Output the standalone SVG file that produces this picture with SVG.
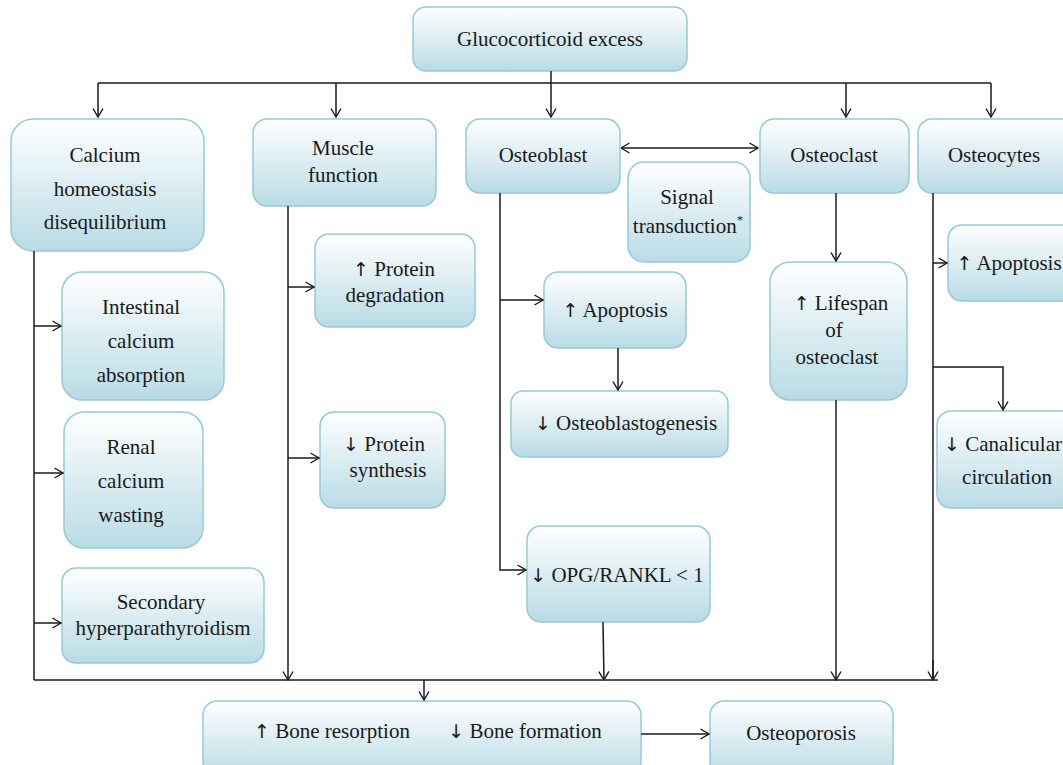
<svg xmlns="http://www.w3.org/2000/svg" width="1063" height="765" viewBox="0 0 1063 765">
<defs>
<linearGradient id="g" x1="0" y1="0" x2="0" y2="1">
<stop offset="0" stop-color="#ffffff"/>
<stop offset="1" stop-color="#b9dbe5"/>
</linearGradient>
<marker id="a" viewBox="0 0 10 12" refX="9.5" refY="6" markerWidth="10" markerHeight="12" markerUnits="userSpaceOnUse" orient="auto-start-reverse">
<path d="M1,1 L9.5,6 L1,11" fill="none" stroke="#1a1a1a" stroke-width="1.4"/>
</marker>
</defs>
<style>
rect{fill:url(#g);stroke:#93cbd8;stroke-width:1.5}
text{font-family:"Liberation Serif","Times New Roman",serif;font-size:21px;fill:#1a1a1a;text-anchor:middle}
.ar{font-family:"DejaVu Sans",sans-serif;font-size:19px;fill:#1a1a1a}
.c path,.c line,.c polyline{fill:none;stroke:#1a1a1a;stroke-width:1.5}
</style>
<rect width="1063" height="765" fill="#fff" style="fill:#fff;stroke:none"/>
<g id="glucocorticoid"><rect x="413" y="7" width="274" height="64" rx="13"/><text x="550" y="46">Glucocorticoid excess</text></g>
<g id="calcium"><rect x="11" y="119" width="193" height="132" rx="22"/><text x="105" y="162">Calcium</text><text x="105" y="196">homeostasis</text><text x="105" y="229">disequilibrium</text></g>
<g id="muscle"><rect x="253" y="119" width="183" height="87" rx="14"/><text x="343" y="155">Muscle</text><text x="343" y="182">function</text></g>
<g id="osteoblast"><rect x="466" y="119" width="154" height="74" rx="14"/><text x="543" y="162">Osteoblast</text></g>
<g id="osteoclast"><rect x="760" y="119" width="149" height="74" rx="14"/><text x="834" y="162">Osteoclast</text></g>
<g id="osteocytes"><rect x="918" y="119" width="160" height="74" rx="14"/><text x="994" y="162">Osteocytes</text></g>
<g id="signal"><rect x="628" y="162" width="122" height="100" rx="16"/><text x="687" y="204">Signal</text><text x="688" y="233">transduction<tspan dy="-9" style="font-size:13px">*</tspan></text></g>
<g id="intestinal"><rect x="62" y="272" width="162" height="128" rx="20"/><text x="141" y="314">Intestinal</text><text x="141" y="348">calcium</text><text x="141" y="382">absorption</text></g>
<g id="renal"><rect x="64" y="412" width="139" height="136" rx="20"/><text x="131" y="454">Renal</text><text x="131" y="488">calcium</text><text x="131" y="522">wasting</text></g>
<g id="secondary"><rect x="62" y="568" width="202" height="95" rx="14"/><text x="161" y="609">Secondary</text><text x="163" y="635">hyperparathyroidism</text></g>
<g id="protdeg"><rect x="315" y="234" width="160" height="93" rx="14"/><text x="394" y="276"><tspan class="ar">↑</tspan> Protein</text><text x="395" y="302">degradation</text></g>
<g id="protsyn"><rect x="320" y="412" width="125" height="96" rx="14"/><text x="384" y="451"><tspan class="ar">↓</tspan> Protein</text><text x="388" y="477">synthesis</text></g>
<g id="obapoptosis"><rect x="544" y="272" width="142" height="76" rx="14"/><text x="615" y="317"><tspan class="ar">↑</tspan> Apoptosis</text></g>
<g id="osteoblastogenesis"><rect x="511" y="391" width="217" height="66" rx="12"/><text x="626" y="430"><tspan class="ar">↓</tspan> Osteoblastogenesis</text></g>
<g id="opg"><rect x="527" y="526" width="183" height="96" rx="14"/><text x="617" y="582"><tspan class="ar">↓</tspan> OPG/RANKL &lt; 1</text></g>
<g id="lifespan"><rect x="770" y="262" width="137" height="138" rx="20"/><text x="841" y="310"><tspan class="ar">↑</tspan> Lifespan</text><text x="834" y="337">of</text><text x="837" y="364">osteoclast</text></g>
<g id="ocapoptosis"><rect x="948" y="225" width="130" height="76" rx="14"/><text x="1009" y="270"><tspan class="ar">↑</tspan> Apoptosis</text></g>
<g id="canalicular"><rect x="937" y="411" width="140" height="97" rx="14"/><text x="1003" y="451"><tspan class="ar">↓</tspan> Canalicular</text><text x="1007" y="484">circulation</text></g>
<g id="boneeffects"><rect x="203" y="701" width="438" height="75" rx="14"/><text x="332" y="738"><tspan class="ar">↑</tspan> Bone resorption</text><text x="525" y="738"><tspan class="ar">↓</tspan> Bone formation</text></g>
<g id="osteoporosis"><rect x="710" y="701" width="183" height="75" rx="14"/><text x="801" y="740">Osteoporosis</text></g>
<g id="connectors" class="c">
<line x1="551" y1="71" x2="551" y2="117" marker-end="url(#a)"/>
<line x1="98" y1="83" x2="991" y2="83"/>
<line x1="98" y1="83" x2="98" y2="117" marker-end="url(#a)"/>
<line x1="336" y1="83" x2="336" y2="117" marker-end="url(#a)"/>
<line x1="846" y1="83" x2="846" y2="117" marker-end="url(#a)"/>
<line x1="991" y1="83" x2="991" y2="117" marker-end="url(#a)"/>
<line x1="621" y1="148" x2="758" y2="148" marker-start="url(#a)" marker-end="url(#a)"/>
<line x1="34" y1="251" x2="34" y2="680"/>
<line x1="34" y1="326" x2="61" y2="326" marker-end="url(#a)"/>
<line x1="34" y1="473" x2="63" y2="473" marker-end="url(#a)"/>
<line x1="34" y1="623" x2="61" y2="623" marker-end="url(#a)"/>
<line x1="288" y1="206" x2="288" y2="680" marker-end="url(#a)"/>
<line x1="288" y1="287" x2="314" y2="287" marker-end="url(#a)"/>
<line x1="288" y1="458" x2="319" y2="458" marker-end="url(#a)"/>
<polyline points="500,193 500,570 526,570" marker-end="url(#a)"/>
<line x1="500" y1="300" x2="543" y2="300" marker-end="url(#a)"/>
<line x1="618" y1="348" x2="618" y2="390" marker-end="url(#a)"/>
<line x1="603" y1="622" x2="604" y2="680" marker-end="url(#a)"/>
<line x1="836" y1="193" x2="836" y2="261" marker-end="url(#a)"/>
<line x1="836" y1="400" x2="836" y2="680" marker-end="url(#a)"/>
<line x1="933" y1="193" x2="933" y2="680"/>
<line x1="933" y1="263" x2="947" y2="263" marker-end="url(#a)"/>
<polyline points="933,367 1003,367 1003,410" marker-end="url(#a)"/>
<line x1="34" y1="680" x2="938" y2="680"/>
<line x1="933" y1="660" x2="933" y2="680" marker-end="url(#a)"/>
<line x1="424" y1="680" x2="424" y2="700" marker-end="url(#a)"/>
<line x1="641" y1="734" x2="709" y2="734" marker-end="url(#a)"/>
</g>
</svg>
